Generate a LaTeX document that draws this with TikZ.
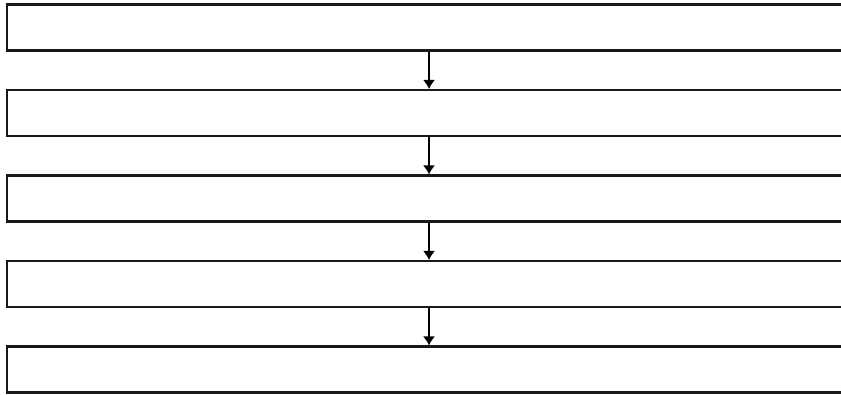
\documentclass[tikz,border=0pt]{standalone}
\usetikzlibrary{positioning,arrows.meta,chains}
\tikzset{
>={Latex[length=9pt,width=12pt]},
blankbox/.style={ rectangle, draw=black!90, line width=2.2pt, minimum width=844pt, minimum height=46pt, on chain},
every join/.style={->, line width=1.3pt},
}
\begin{document}
\begin{tikzpicture}
[node distance=37.3pt, start chain=going below,]

\useasboundingbox (0,0) rectangle (841pt,-394pt);
\clip (0,0) rectangle (841pt,-394pt);

\node[blankbox] (stepone) at (429pt,-27.5pt) {};
\node[blankbox, join] (steptwo) {};
\node[blankbox, join] (stepthree) {};
\node[blankbox, join] (stepfour) {};
\node[blankbox, join] (stepfive) {};

\end{tikzpicture}
\end{document}
